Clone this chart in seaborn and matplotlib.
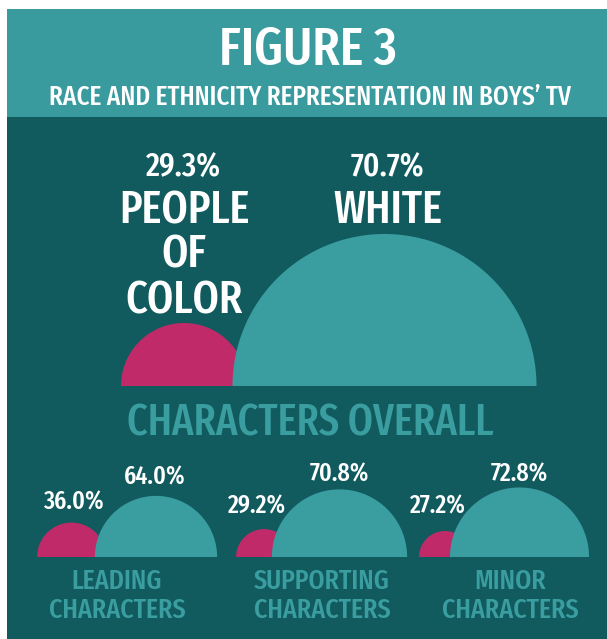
import os
import numpy as np
import matplotlib
matplotlib.use("Agg")
import matplotlib.pyplot as plt
from matplotlib.patches import Rectangle
from matplotlib import font_manager as fm
from matplotlib.font_manager import FontProperties
from matplotlib.textpath import TextPath
import seaborn as sns

# ---------------- data ----------------
groups = ["CHARACTERS OVERALL", "LEADING\nCHARACTERS", "SUPPORTING\nCHARACTERS", "MINOR\nCHARACTERS"]
poc_pct = [29.3, 36.0, 29.2, 27.2]
white_pct = [70.7, 64.0, 70.8, 72.8]
poc_label = "PEOPLE\nOF\nCOLOR"
white_label = "WHITE"
title = "FIGURE 3"
subtitle = "RACE AND ETHNICITY REPRESENTATION IN BOYS\u2019 TV"

# ---------------- style ----------------
sns.set_theme(style="white")
plt.rcParams["font.family"] = ["DejaVu Sans"]


def weight_num(f):
    try:
        return int(f.weight)
    except Exception:
        return {"normal": 400, "regular": 400, "medium": 500, "semibold": 600,
                "demibold": 600, "bold": 700, "light": 300}.get(str(f.weight).lower(), 400)


def pick_font(target_weight):
    rank = {"ultra-condensed": 5, "extra-condensed": 4, "condensed": 3, "semi-condensed": 2}
    best, best_score = None, -1e9
    for f in fm.fontManager.ttflist:
        if f.style != "normal":
            continue
        st = f.stretch if isinstance(f.stretch, str) else "normal"
        r = rank.get(st, 0)
        base = os.path.basename(f.fname)
        if any(k in f.name or k in base for k in ("Narrow", "Condensed")):
            r = max(r, 3)
        if "ExtraCondensed" in base or "Extra Condensed" in f.name:
            r = max(r, 4)
        if r == 0:
            continue
        score = r * 1000 - abs(weight_num(f) - target_weight)
        if score > best_score:
            best, best_score = f.fname, score
    return best


FONT_MED = pick_font(520)


def fprop(size):
    if FONT_MED:
        return FontProperties(fname=FONT_MED, size=size)
    return FontProperties(family="DejaVu Sans", size=size, stretch="condensed")


def fit_size(s, target_w, target_cap):
    """font size (pt) so that ink width ~ target_w px and cap height <= target_cap px"""
    p = fprop(100)
    ext = TextPath((0, 0), s, prop=p).get_extents()
    cap = TextPath((0, 0), "H", prop=p).get_extents().height
    size_w = 100 * target_w / (ext.width * 100 / 72)
    size_h = 100 * target_cap / (cap * 100 / 72)
    return min(size_w, size_h)


W, H = 607, 639
BAND = "#3a9b9e"
DARK = "#115b5f"
PINK = "#c12a68"
TEAL = "#3a9da0"
WHITE = "#ffffff"

fig = plt.figure(figsize=(W / 100, H / 100), dpi=100)
fig.patch.set_facecolor("white")

bg = fig.add_axes([0, 0, 1, 1])
bg.set_xlim(0, W)
bg.set_ylim(H, 0)
bg.axis("off")
bg.add_patch(Rectangle((7, 9), W - 7, 108, color=BAND, lw=0))
bg.add_patch(Rectangle((7, 117), W - 7, H - 117, color=DARK, lw=0))


def put(x, y, s, size, color=WHITE):
    bg.text(x, y, s, color=color, fontproperties=fprop(size), ha="center", va="baseline")


put(308, 65, title, fit_size(title, 173, 40))
put(310, 105, subtitle, fit_size(subtitle, 520, 21))

# semicircles: radius = percentage, one axes per group in percent units
layout = [
    (2.15, 386, 184, 384.5),
    (0.955, 557, 71.5, 156),
    (0.955, 557, 264, 339.5),
    (0.955, 557, 445, 519.5),
]
t = np.linspace(0, np.pi, 240)
for i, (s, yb, cxp, cxt) in enumerate(layout):
    ax = fig.add_axes([0, 0, 1, 1])
    ax.patch.set_alpha(0)
    ax.axis("off")
    ax.set_xlim(-cxp / s, (W - cxp) / s)
    ax.set_ylim(-(H - yb) / s, yb / s)
    d = (cxt - cxp) / s
    rp, rw = poc_pct[i], white_pct[i]
    ax.fill(rp * np.cos(t), rp * np.sin(t), color=PINK, lw=0)
    ax.fill(d + rw * np.cos(t), rw * np.sin(t), color=TEAL, lw=0)

# main group labels
main_pct_size = fit_size("29.3%", 74, 25)
big_size = fit_size("PEOPLE", 126, 36)
put(184, 177, f"{poc_pct[0]:.1f}%", main_pct_size)
put(387, 177, f"{white_pct[0]:.1f}%", main_pct_size)
for line, yb in zip(poc_label.split("\n"), [223, 268, 314]):
    put(184, yb, line, big_size)
put(388, 223, white_label, big_size)
put(310, 436, groups[0], fit_size(groups[0], 365, 36), TEAL)

# small groups
small_pct_size = fit_size("36.0%", 60, 19)
cat_size = fit_size("CHARACTERS", 135, 23)
poc_pos = [(73, 509), (257, 513), (438, 513)]
white_pos = [(155, 484), (339, 481), (519, 481)]
cat_x = [117, 322, 510]
for k in range(3):
    i = k + 1
    put(*poc_pos[k], f"{poc_pct[i]:.1f}%", small_pct_size)
    put(*white_pos[k], f"{white_pct[i]:.1f}%", small_pct_size)
    l1, l2 = groups[i].split("\n")
    put(cat_x[k], 589, l1, cat_size, TEAL)
    put(cat_x[k], 618, l2, cat_size, TEAL)

fig.savefig("out.png", dpi=100, facecolor="white")
